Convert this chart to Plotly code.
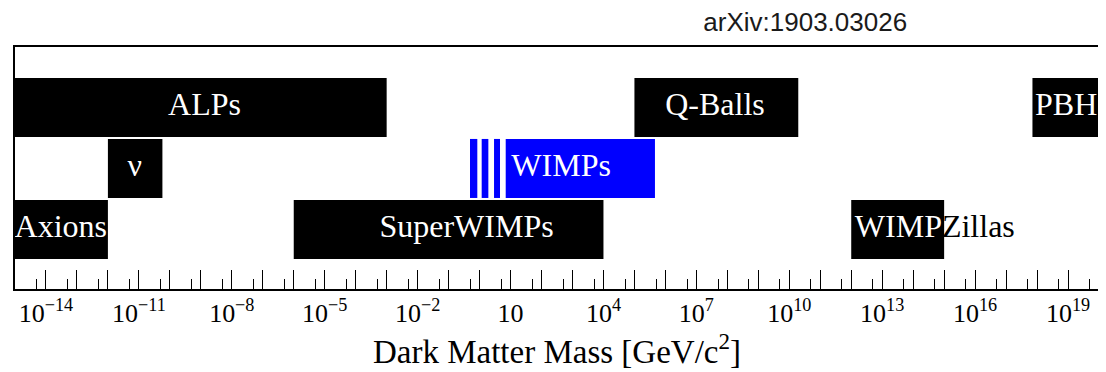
import plotly.graph_objects as go

# ---- data ----
categories = ["ALPs", "Q-Balls", "PBH", "ν", "WIMPs", "Axions", "SuperWIMPs", "WIMPZillas"]
rows = [2, 2, 2, 1, 1, 0, 0, 0]
mass_lo = [1e-15, 1e5, 7.1e17, 1e-12, 6.98, 1e-15, 1e-6, 1e12]
mass_hi = [1e-3, 1.95e10, 1e20, 5.75e-11, 4.6e5, 1e-12, 1e4, 1e15]
bar_colors = ["black", "black", "black", "black", "#0000ff", "black", "black", "black"]

# hatched (striped) light-WIMP region
hatch_lo = [0.49, 1.17, 2.93]
hatch_hi = [0.845, 1.92, 4.57]
hatch_row = 1

# label anchor masses (centre of each text)
label_mass = [1.32e-9, 4.0e7, 8.7e18, 7.4e-12, 4.3e2, 3.0e-14, 0.38, 5.0e14]
label_text = ["ALPs", "Q-Balls", "PBH", "ν", "WIMPs", "Axions", "SuperWIMPs",
              "WIMP<span style='color:black'>Zillas</span>"]

major_exp = list(range(-14, 20))
labelled_exp = list(range(-14, 20, 3))
minor_exp = list(range(-15, 20))

tickvals = [10.0 ** e for e in major_exp]
ticktext = []
for e in major_exp:
    if e in labelled_exp:
        if e == 1:
            ticktext.append("10")
        else:
            ticktext.append("10<sup>%s</sup>" % (str(e).replace("-", "−")))
    else:
        ticktext.append("")
minor_vals = [5 * 10.0 ** e for e in minor_exp]

SERIF = "Liberation Serif, Times New Roman, serif"
BAR_W = 0.967
PAGE_OFFSET = 8  # default body margin of the html page

fig = go.Figure()
fig.add_trace(go.Bar(
    orientation="h",
    y=rows,
    base=mass_lo,
    x=[h - l for l, h in zip(mass_lo, mass_hi)],
    width=BAR_W,
    marker=dict(color=bar_colors, line=dict(width=0)),
    hoverinfo="skip",
    showlegend=False,
))
fig.add_trace(go.Bar(
    orientation="h",
    y=[hatch_row] * len(hatch_lo),
    base=hatch_lo,
    x=[h - l for l, h in zip(hatch_lo, hatch_hi)],
    width=BAR_W,
    marker=dict(color="#0000ff", line=dict(width=0)),
    hoverinfo="skip",
    showlegend=False,
))
fig.add_trace(go.Scatter(
    x=label_mass,
    y=rows,
    mode="text",
    text=label_text,
    textposition="middle center",
    textfont=dict(family=SERIF, size=32, color="white"),
    hoverinfo="skip",
    showlegend=False,
))

H = 372 - PAGE_OFFSET
fig.update_layout(
    width=1106 - PAGE_OFFSET, height=H,
    margin=dict(l=15 - PAGE_OFFSET, r=7, t=47 - PAGE_OFFSET, b=83),
    paper_bgcolor="white", plot_bgcolor="white",
    barmode="overlay",
    hovermode=False,
    title=dict(
        text="arXiv:1903.03026",
        font=dict(family="Liberation Sans, Arial, sans-serif", size=26, color="#1a1a1a"),
        x=0.729, xref="paper", xanchor="center",
        y=1 - (21.5 - PAGE_OFFSET) / H, yref="container", yanchor="middle",
    ),
    xaxis=dict(
        type="log",
        range=[-15, 20],
        automargin=False,
        showgrid=False, zeroline=False,
        showline=True, mirror=True, linecolor="black", linewidth=1.5,
        ticks="inside", ticklen=19, tickwidth=1.2, tickcolor="black",
        tickmode="array", tickvals=tickvals, ticktext=ticktext,
        tickfont=dict(family=SERIF, size=26, color="black"),
        ticklabelstandoff=0,
        minor=dict(ticks="inside", ticklen=10, tickwidth=1.2, tickcolor="black",
                   tickmode="array", tickvals=minor_vals, showgrid=False),
        title=dict(text="Dark Matter Mass [GeV/c<sup>2</sup>]",
                   font=dict(family=SERIF, size=33, color="black"), standoff=8),
    ),
    yaxis=dict(
        range=[-0.975, 2.99],
        automargin=False,
        showgrid=False, zeroline=False,
        showticklabels=False, ticks="",
        showline=True, mirror=True, linecolor="black", linewidth=1.5,
    ),
)

fig.write_html("out.html")
